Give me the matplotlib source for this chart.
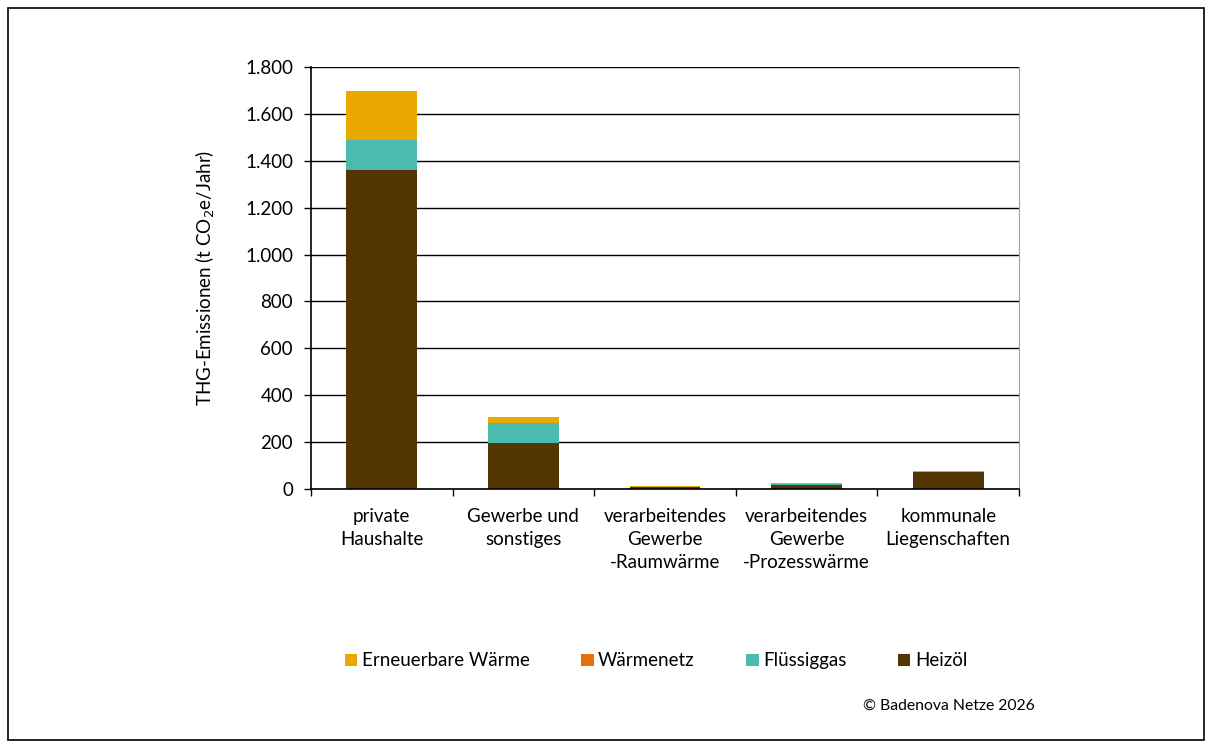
import numpy as np
import matplotlib
matplotlib.use('Agg')
from matplotlib import pyplot as plt
from matplotlib.patches import Rectangle

plt.rcParams['font.family'] = ['Lato', 'DejaVu Sans']

categories = ['private\nHaushalte', 'Gewerbe und\nsonstiges',
              'verarbeitendes\nGewerbe\n-Raumwärme',
              'verarbeitendes\nGewerbe\n-Prozesswärme',
              'kommunale\nLiegenschaften']
heizoel = [1362, 196, 8, 16, 72]
fluessiggas = [128, 86, 0, 5, 0]
waermenetz = [0, 0, 0, 0, 0]
erneuerbar = [208, 25, 6, 5, 5]

series = [('Heizöl', heizoel, '#523500'),
          ('Flüssiggas', fluessiggas, '#4bbbb0'),
          ('Wärmenetz', waermenetz, '#e8700a'),
          ('Erneuerbare Wärme', erneuerbar, '#eaa800')]
yticks = np.arange(0, 1801, 200)

fs = 13.5

fig = plt.figure(figsize=(12.12, 7.49), dpi=100)
ax = fig.add_axes([0.2566, 0.3471, 0.5842, 0.5634])

x = np.arange(len(categories))
bottom = np.zeros(len(categories))
handles = {}
for name, vals, col in series:
    vals = np.array(vals, dtype=float)
    h = ax.bar(x, vals, width=0.5, bottom=bottom, color=col, label=name)
    handles[name] = h
    bottom += vals

ax.set_xlim(-0.5, len(categories) - 0.5)
ax.set_ylim(0, 1800)
ax.set_yticks(yticks)
ax.set_yticklabels([f'{v:,}'.replace(',', '.') for v in yticks], fontsize=fs)
ax.yaxis.grid(True, color='black', linewidth=1)
ax.set_axisbelow(True)

ax.set_xticks(x)
ax.set_xticklabels(categories, fontsize=fs, linespacing=1.42)
ax.tick_params(axis='x', length=0, pad=14)
ax.set_xticks(np.arange(-0.5, len(categories)), minor=True)
ax.tick_params(axis='x', which='minor', length=5, width=1, direction='out')
ax.tick_params(axis='y', length=5, width=1, direction='out', pad=8)

for s in ['left', 'bottom']:
    ax.spines[s].set_color('black')
    ax.spines[s].set_linewidth(1.2)
ax.spines['right'].set_color('#a0a0a0')
ax.spines['top'].set_visible(False)

ax.set_ylabel('THG-Emissionen (t CO$_2$e/Jahr)', fontsize=fs, labelpad=20)

order = ['Erneuerbare Wärme', 'Wärmenetz', 'Flüssiggas', 'Heizöl']
fig.legend([handles[n] for n in order], order, loc='center left',
           bbox_to_anchor=(345 / 1212, 0.1175), ncol=4, frameon=False,
           borderaxespad=0, borderpad=0,
           fontsize=fs, handlelength=0.65, handleheight=0.65,
           handletextpad=0.25, columnspacing=2.75)

fig.text(0.854, 0.057, '© Badenova Netze 2026', ha='right', va='center',
         fontsize=11.3)

fig.patches.append(Rectangle((0.0066, 0.012), 0.9868, 0.977,
                             transform=fig.transFigure, fill=False,
                             edgecolor='black', linewidth=1.2))

fig.savefig('out.png', dpi=100)
